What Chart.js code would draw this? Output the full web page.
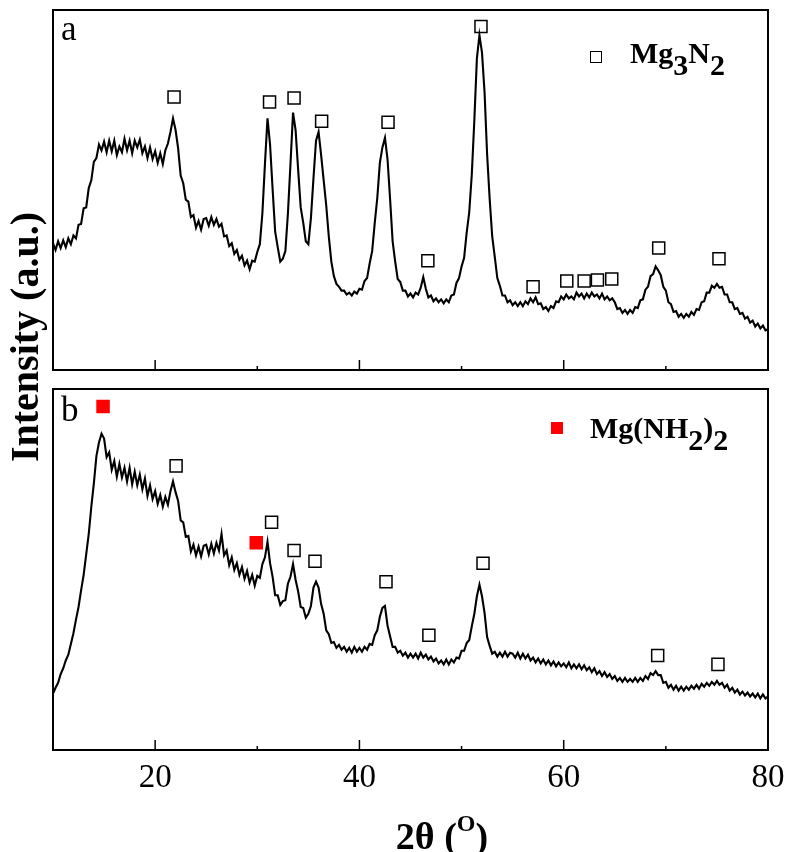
<!DOCTYPE html>
<html>
<head>
<meta charset="utf-8">
<script src="https://cdn.jsdelivr.net/npm/chart.js"></script>
<style>
body { margin: 0; background: #fff; }
#wrap { position: relative; width: 787px; height: 852px; font-family: "Liberation Serif", "Times New Roman", serif; color: #000; }
#chartA { position: absolute; left: 0; top: 0; }
#chartB { position: absolute; left: 0; top: 379px; }
.txt { position: absolute; white-space: nowrap; }
.panel { font-size: 35px; line-height: 35px; }
.legend { font-size: 30px; line-height: 30px; font-weight: bold; }
.legend .d { position: relative; top: 12px; }
.sq { position: absolute; width: 12px; height: 12px; box-sizing: border-box; }
#ytitle { left: -125px; top: 317px; width: 300px; height: 40px; line-height: 40px; font-size: 40px; font-weight: bold; text-align: center; transform: rotate(-90deg); }
#xtitle { left: 342px; top: 808px; width: 200px; line-height: 38px; font-size: 38px; font-weight: bold; text-align: center; }
#xtitle sup { font-size: 24px; position: relative; top: -4px; }
</style>
</head>
<body>
<div id="wrap">
  <canvas id="chartA" width="787" height="380"></canvas>
  <canvas id="chartB" width="787" height="473"></canvas>
  <div class="txt panel" style="left:61px;top:11px;">a</div>
  <div class="txt panel" style="left:61px;top:392px;">b</div>
  <div class="sq" style="left:590px;top:51px;border:1.5px solid #000;"></div>
  <div class="txt legend" style="left:630px;top:38px;">Mg<span class="d">3</span>N<span class="d">2</span></div>
  <div class="sq" style="left:551px;top:422px;background:#f00;"></div>
  <div class="txt legend" style="left:590px;top:413px;">Mg(NH<span class="d">2</span>)<span class="d">2</span></div>
  <div class="txt" id="ytitle">Intensity (a.u.)</div>
  <div class="txt" id="xtitle">2&theta; (<sup>O</sup>)</div>
</div>
<script>
// scan: 10-80 deg, 0.25 deg step
var scanStart = 10;
var scanStep = 0.25;

// panel a - Mg3N2 sample
var intensityA = [
  131,124,133,126,134,127,136,130,139,136,150,151,167,168,188,196,215,219,233,227,
  236,225,237,226,237,222,231,225,239,227,237,224,237,230,238,224,231,219,230,218,
  226,214,224,213,227,234,246,260,248,229,201,193,176,174,158,160,147,154,145,156,
  157,149,158,150,156,148,151,138,139,128,131,120,124,114,118,108,113,104,113,112,
  122,130,162,213,260,233,187,143,127,112,115,123,162,213,266,248,207,168,152,133,
  130,157,198,237,246,222,196,170,138,112,97,89,86,82,82,78,80,77,81,79,
  84,83,92,95,110,123,152,178,214,230,240,218,177,133,112,94,91,82,82,76,
  79,75,80,78,85,96,84,75,77,71,74,70,73,69,73,70,77,78,90,95,
  107,116,142,163,202,258,322,346,328,287,223,177,138,117,95,87,77,77,70,72,
  67,70,66,70,66,71,68,74,70,75,68,69,63,65,61,66,64,71,70,76,
  73,78,74,76,73,80,76,79,74,79,75,80,76,78,74,79,73,76,72,74,
  70,63,64,59,62,58,62,59,65,64,72,73,83,86,97,99,107,103,98,86,
  82,70,68,60,61,55,58,54,58,55,60,57,63,62,70,71,80,80,87,85,
  89,85,86,78,78,70,70,63,64,58,59,53,55,49,51,45,48,43,46,41,
  42
];

// panel b - Mg(NH2)2 sample
var intensityB = [
  58,64,69,78,84,92,98,109,120,134,147,164,180,201,222,250,274,302,316,325,
  320,301,306,288,297,281,294,280,290,276,290,273,286,272,283,268,279,261,272,258,
  266,253,262,250,260,252,266,276,265,256,236,234,219,220,204,211,200,209,199,210,
  211,201,212,202,213,205,222,200,205,190,198,185,192,180,188,176,184,172,180,169,
  179,177,191,198,214,192,178,159,159,149,153,154,171,178,191,175,163,147,146,136,
  140,148,167,173,167,150,140,123,119,110,111,105,108,103,106,101,105,100,106,101,
  105,101,106,103,109,108,118,123,137,146,148,128,117,106,106,100,102,97,100,95,
  99,95,99,94,100,95,98,93,96,91,94,89,92,88,93,88,93,90,95,94,
  102,102,110,113,127,140,158,170,158,141,116,107,99,101,96,100,96,101,96,100,
  99,95,100,94,99,94,98,92,95,90,94,89,93,88,92,87,91,86,90,86,
  89,85,90,84,88,84,88,83,87,82,85,80,84,78,81,76,80,75,78,73,
  76,71,74,70,74,70,73,70,74,70,74,71,76,73,79,77,81,77,77,69,
  70,64,67,62,66,61,65,61,65,62,66,63,67,63,68,65,69,66,70,67,
  71,67,69,64,67,61,64,59,62,57,60,56,59,55,58,54,58,53,57,53,
  55
];

// peak markers (open squares = Mg3N2, red = Mg(NH2)2)
var nitridePeaksA = [21.85, 31.2, 33.6, 36.3, 42.8, 46.7, 51.9, 57.0, 60.3, 62.0, 63.3, 64.7, 69.3, 75.2];
var nitrideMarkA  = [282, 277, 281, 257, 256, 113, 355, 86, 92, 92, 93, 94, 126, 115];
var nitridePeaksB = [22.05, 31.4, 33.6, 35.65, 42.6, 46.8, 52.1, 69.2, 75.1];
var nitrideMarkB  = [292, 234, 205, 194, 173, 118, 192, 97, 88];
var amidePeaks = [14.9, 29.9];
var amideMark  = [353, 213];

var majorTicks = [20, 40, 60, 80];
var minorTicks = [30, 50, 70];

var twoTheta = intensityA.map(function (_, i) { return scanStart + i * scanStep; });

function pairs(xs, ys) {
  return xs.map(function (x, i) { return {x: x, y: ys[i]}; });
}

var serif = '"Liberation Serif", "Times New Roman", serif';

// box + inward ticks on the bottom edge
var framePlugin = {
  id: 'frame',
  afterDraw: function (chart) {
    var ctx = chart.ctx, a = chart.chartArea, x = chart.scales.x;
    ctx.save();
    ctx.strokeStyle = '#000';
    ctx.lineWidth = 2;
    ctx.strokeRect(a.left, a.top, a.right - a.left, a.bottom - a.top);
    ctx.lineWidth = 1.5;
    majorTicks.concat(minorTicks).forEach(function (v) {
      var px = x.getPixelForValue(v);
      var len = majorTicks.indexOf(v) >= 0 ? 10 : 4;
      ctx.beginPath();
      ctx.moveTo(px, a.bottom);
      ctx.lineTo(px, a.bottom - len);
      ctx.stroke();
    });
    ctx.restore();
  }
};

function lineSet(ys) {
  return {
    data: pairs(twoTheta, ys),
    borderColor: '#000',
    borderWidth: 2.1,
    pointRadius: 0,
    tension: 0
  };
}

function markSet(xs, ys, fill, edge) {
  return {
    data: pairs(xs, ys),
    showLine: false,
    pointStyle: 'rect',
    pointRadius: 8.5,
    borderWidth: 1.5,
    backgroundColor: fill,
    borderColor: edge,
    clip: false
  };
}

var chartA = new Chart(document.getElementById('chartA').getContext('2d'), {
  type: 'line',
  data: {
    datasets: [
      lineSet(intensityA),
      markSet(nitridePeaksA, nitrideMarkA, '#fff', '#000')
    ]
  },
  options: {
    responsive: false,
    animation: false,
    layout: {padding: {left: 53, right: 19, top: 7, bottom: 1}},
    plugins: {legend: {display: false}, tooltip: {enabled: false}},
    scales: {
      x: {type: 'linear', min: 10, max: 80, display: false},
      y: {min: 0, max: 372, display: false}
    }
  },
  plugins: [framePlugin]
});

var chartB = new Chart(document.getElementById('chartB').getContext('2d'), {
  type: 'line',
  data: {
    datasets: [
      lineSet(intensityB),
      markSet(nitridePeaksB, nitrideMarkB, '#fff', '#000'),
      markSet(amidePeaks, amideMark, '#f00', '#f00')
    ]
  },
  options: {
    responsive: false,
    animation: false,
    layout: {padding: {left: 53, right: 19, top: 0, bottom: 0}},
    plugins: {legend: {display: false}, tooltip: {enabled: false}},
    scales: {
      x: {
        type: 'linear', min: 10, max: 80,
        grid: {display: false, drawTicks: false},
        border: {display: false},
        afterBuildTicks: function (scale) {
          scale.ticks = majorTicks.map(function (v) { return {value: v}; });
        },
        afterFit: function (scale) {
          scale.height = 102;
          scale.paddingLeft = 0;
          scale.paddingRight = 0;
        },
        ticks: {
          color: '#000',
          padding: 9,
          maxRotation: 0,
          autoSkip: false,
          font: {family: serif, size: 33}
        }
      },
      y: {min: 0, max: 371, display: false}
    }
  },
  plugins: [framePlugin]
});
</script>
</body>
</html>
